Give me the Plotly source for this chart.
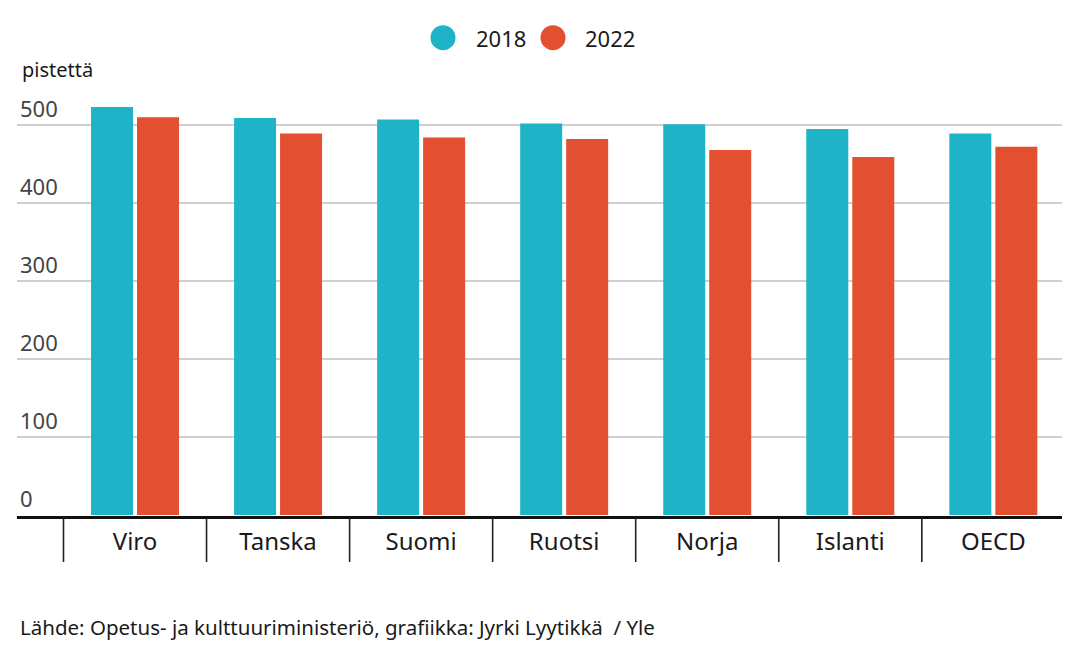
import plotly.graph_objects as go

categories = ["Viro", "Tanska", "Suomi", "Ruotsi", "Norja", "Islanti", "OECD"]
values_2018 = [523, 509, 507, 502, 501, 495, 489]
values_2022 = [510, 489, 484, 482, 468, 459, 472]
y_ticks = [0, 100, 200, 300, 400, 500]
series_names = ["2018", "2022"]
colors = ["#1fb3c8", "#e24f31"]

FONT = "Noto Sans"

# figure geometry (pixels)
W, H = 1064, 641
ML, MR, MT, MB = 9, 10, 78, 134
PW, PH = W - ML - MR, H - MT - MB


def px_x(fx):
    return (fx - ML) / PW


def px_y(fy):
    return (H - MB - fy) / PH


fig = go.Figure()
for name, vals, col in zip(series_names, [values_2018, values_2022], colors):
    fig.add_trace(go.Bar(x=list(range(len(categories))), y=vals, name=name,
                         marker=dict(color=col, line=dict(width=0)),
                         showlegend=False, hoverinfo="y"))

# baseline (drawn just below the data zero)
fig.add_shape(type="line", xref="paper", yref="paper", x0=0, x1=1,
              y0=-2.5 / PH, y1=-2.5 / PH, line=dict(color="#111", width=3))

# category separators
for i in range(len(categories)):
    fig.add_shape(type="line", xref="x", yref="paper", x0=i - 0.5, x1=i - 0.5,
                  y0=-2.5 / PH, y1=-47 / PH, line=dict(color="#222", width=1.6))

# manual legend with large circles
legend_circle_x = [435, 545]
legend_text_x = [466, 575]
leg_y = 29.7
r = 12.5
annotations = []
for name, col, cx, tx in zip(series_names, colors, legend_circle_x, legend_text_x):
    fig.add_shape(type="circle", xref="paper", yref="paper",
                  x0=px_x(cx - r), x1=px_x(cx + r), y0=px_y(leg_y + r), y1=px_y(leg_y - r),
                  fillcolor=col, line=dict(width=0))
    annotations.append(dict(text=name, xref="paper", yref="paper", x=px_x(tx), y=px_y(leg_y),
                            xanchor="left", yanchor="middle", showarrow=False,
                            font=dict(size=22)))

annotations += [
    dict(text="pistettä", xref="paper", yref="paper", x=px_x(12), y=px_y(62),
         xanchor="left", yanchor="middle", showarrow=False, font=dict(size=20)),
    dict(text="Lähde: Opetus- ja kulttuuriministeriö, grafiikka: Jyrki Lyytikkä  / Yle",
         xref="paper", yref="paper", x=px_x(10), y=px_y(619),
         xanchor="left", yanchor="middle", showarrow=False, font=dict(size=20.5)),
]

fig.update_layout(
    width=W, height=H,
    margin=dict(l=ML, r=MR, t=MT, b=MB),
    plot_bgcolor="white", paper_bgcolor="white",
    barmode="group", bargap=0.357, bargroupgap=0.087,
    font=dict(family=FONT, color="#1a1a1a", size=22),
    showlegend=False,
    xaxis=dict(range=[-0.825, 6.48], tickmode="array",
               tickvals=list(range(len(categories))), ticktext=categories,
               showgrid=False, zeroline=False, showline=False, ticks="",
               ticklabelstandoff=10,
               tickfont=dict(size=24), fixedrange=True),
    yaxis=dict(range=[0, 550], tickmode="array", tickvals=y_ticks,
               ticklabelposition="inside top", showgrid=True,
               gridcolor="#d0d0d0", gridwidth=1.5, zeroline=False,
               showline=False, tickfont=dict(size=22), fixedrange=True),
    annotations=annotations,
)

fig.write_html("out.html")
